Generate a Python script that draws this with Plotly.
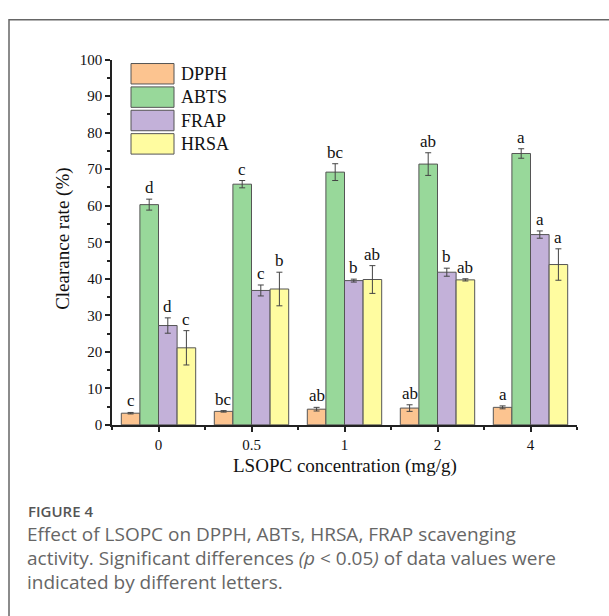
import plotly.graph_objects as go

W, H = 609, 616

# Categories and measured values (mean ± SD)
concentrations = ["0", "0.5", "1", "2", "4"]
series_names = ["DPPH", "ABTS", "FRAP", "HRSA"]

dpph = [3.2, 3.7, 4.3, 4.6, 4.8]
dpph_err = [0.2, 0.2, 0.5, 0.9, 0.4]
abts = [60.3, 65.9, 69.2, 71.4, 74.3]
abts_err = [1.5, 1.0, 2.3, 3.1, 1.3]
frap = [27.2, 36.8, 39.5, 41.8, 52.1]
frap_err = [2.1, 1.5, 0.4, 1.1, 1.0]
hrsa = [21.1, 37.2, 39.8, 39.7, 43.9]
hrsa_err = [4.7, 4.6, 3.8, 0.3, 4.3]

dpph_letters = ["c", "bc", "ab", "ab", "a"]
abts_letters = ["d", "c", "bc", "ab", "a"]
frap_letters = ["d", "c", "b", "b", "a"]
hrsa_letters = ["c", "b", "ab", "ab", "a"]

colors = ["#FCC490", "#98D89A", "#C3B1D9", "#FFFCA0"]
outline = "#555555"
serif = "Liberation Serif, Times New Roman, serif"

values = [dpph, abts, frap, hrsa]
errors = [dpph_err, abts_err, frap_err, hrsa_err]
letters = [dpph_letters, abts_letters, frap_letters, hrsa_letters]

xpos = list(range(len(concentrations)))

fig = go.Figure()
for name, vals, errs, col in zip(series_names, values, errors, colors):
    fig.add_trace(go.Bar(
        name=name, x=xpos, y=vals,
        marker=dict(color=col, line=dict(color=outline, width=1)),
        error_y=dict(type="data", array=errs, color="#444444", thickness=1, width=3),
        showlegend=False,
    ))

# significance letters above each error bar
offsets = [-0.3, -0.1, 0.1, 0.3]
annotations = []
for off, vals, errs, labs in zip(offsets, values, errors, letters):
    for i, (v, e, t) in enumerate(zip(vals, errs, labs)):
        annotations.append(dict(
            x=i + off, y=v + e, xref="x", yref="y", text=t, showarrow=False,
            yanchor="bottom", yshift=0, font=dict(family=serif, size=17, color="#111111"),
        ))


def px(x):
    """pixel x -> paper fraction"""
    return x / W


def py(y):
    """pixel y (from top) -> paper fraction"""
    return 1 - y / H


# legend drawn as boxes with labels
shapes = []
box_tops = [57, 81, 105, 129]
for top, col, name in zip(box_tops, colors, series_names):
    shapes.append(dict(type="rect", xref="paper", yref="paper",
                       x0=px(131), x1=px(174), y0=py(top + 21), y1=py(top),
                       fillcolor=col, line=dict(color=outline, width=1)))
    annotations.append(dict(x=px(179), y=py(top + 10.5), xref="paper", yref="paper",
                            text=name, showarrow=False, xanchor="left", yanchor="middle",
                            font=dict(family=serif, size=18, color="#111111")))

# outer frame (left and top edges)
shapes.append(dict(type="path", xref="paper", yref="paper",
                   path=f"M {px(9)},{py(H + 20)} L {px(9)},{py(12)} L {px(W + 20)},{py(12)}",
                   line=dict(color="#666666", width=1.5)))

# axis titles
annotations.append(dict(x=px(345), y=py(470), xref="paper", yref="paper",
                        text="LSOPC concentration (mg/g)", showarrow=False,
                        xanchor="center", yanchor="middle",
                        font=dict(family=serif, size=19, color="#111111")))
annotations.append(dict(x=px(63), y=py(237), xref="paper", yref="paper",
                        text="Clearance rate (%)", showarrow=False, textangle=-90,
                        xanchor="center", yanchor="middle",
                        font=dict(family=serif, size=19, color="#111111")))

# caption
cap_font = "Open Sans, Noto Sans, sans-serif"
annotations.append(dict(x=px(26), y=py(516), xref="paper", yref="paper",
                        text="FIGURE 4", showarrow=False, xanchor="left", yanchor="middle",
                        font=dict(family=cap_font, size=15, color="#555555", weight=600)))
caption_lines = [
    "Effect of LSOPC on DPPH, ABTs, HRSA, FRAP scavenging",
    "activity. Significant differences <i>(p</i> &lt; 0.05<i>)</i> of data values were",
    "indicated by different letters.",
]
for k, line in enumerate(caption_lines):
    annotations.append(dict(x=px(25), y=py(540 + 24.5 * k), xref="paper", yref="paper",
                            text=line, showarrow=False, xanchor="left", yanchor="middle",
                            font=dict(family=cap_font, size=19, color="#666666")))

fig.update_layout(
    width=W, height=H,
    margin=dict(l=0, r=0, t=0, b=0),
    paper_bgcolor="white", plot_bgcolor="white",
    barmode="group", bargap=0.2, bargroupgap=0,
    shapes=shapes, annotations=annotations,
    xaxis=dict(
        domain=[px(112), px(577)], range=[-0.5, 4.5],
        tickvals=xpos, ticktext=concentrations,
        showline=True, linecolor="#222222", linewidth=1.5,
        ticks="outside", ticklen=5, tickwidth=1.5, tickcolor="#222222",
        ticklabelstandoff=0,
        minor=dict(tickvals=[-0.5, 0.5, 1.5, 2.5, 3.5, 4.5], ticks="outside",
                   ticklen=3, tickwidth=1.5, tickcolor="#222222"),
        showgrid=False, zeroline=False,
        tickfont=dict(family=serif, size=15, color="#111111"),
    ),
    yaxis=dict(
        domain=[py(428), py(53)], range=[0, 100],
        dtick=10, tick0=0,
        showline=True, linecolor="#222222", linewidth=1.5,
        ticks="outside", ticklen=5, tickwidth=1.5, tickcolor="#222222",
        minor=dict(dtick=5, tick0=0, ticks="outside", ticklen=3, tickwidth=1.5,
                   tickcolor="#222222", showgrid=False),
        showgrid=False, zeroline=False,
        tickfont=dict(family=serif, size=15, color="#111111"),
    ),
)

fig.write_html("out.html")
